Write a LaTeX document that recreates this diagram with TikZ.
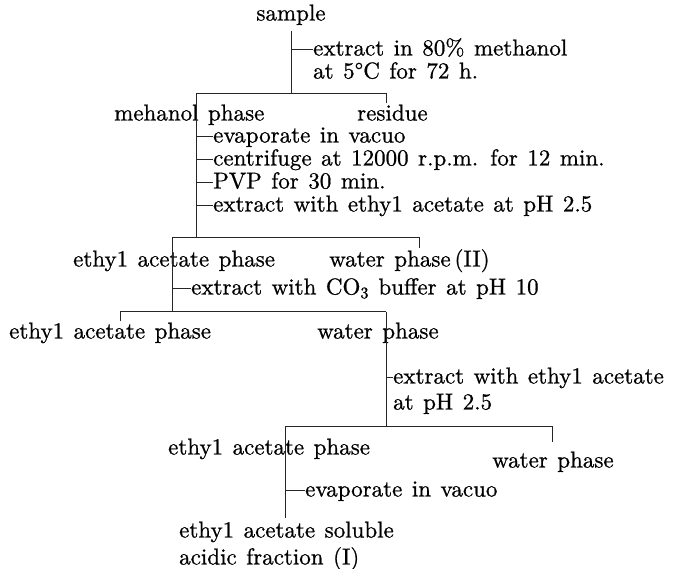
\documentclass[tikz,border=0pt]{standalone}
\usepackage{fontspec}
\newfontfamily\dfont{lmroman10-regular.otf}[FakeBold=0.8]
\newcommand{\wsp}{\spaceskip=9.5pt\relax}
\begin{document}
\begin{tikzpicture}[x=1pt,y=-1pt,
  lbl/.style={anchor=west,inner sep=0pt,font=\dfont\fontsize{23}{23}\selectfont,execute at begin node=\wsp,text height=16pt,text depth=5pt},
  ln/.style={line width=1pt,black!85}]
\useasboundingbox (0,0) rectangle (681,569);
% texts
\node[lbl,anchor=center] (sample) at (291,15) {sample};
\node[lbl] (s1a) at (313,50) {extract in 80\% methanol};
\node[lbl] (s1b) at (313,73) {at 5°C for 72 h.};
\node[lbl] (meth) at (114,115) {mehanol phase};
\node[lbl] (res) at (357,115) {residue};
\node[lbl] (s2a) at (213,137) {evaporate in vacuo};
\node[lbl] (s2b) at (213,160) {centrifuge at 12000 r.p.m. for 12 min.};
\node[lbl] (s2c) at (213,183) {PVP for 30 min.};
\node[lbl] (s2d) at (213,206) {extract with ethy1 acetate at pH 2.5};
\node[lbl] (eap1) at (73,261) {ethy1 acetate phase};
\node[lbl] (wp2) at (329,261) {water phase\,(II)};
\node[lbl] (s3) at (191,289) {extract with CO\textsubscript{3} buffer at pH 10};
\node[lbl] (eap2) at (9,333) {ethy1 acetate phase};
\node[lbl] (wp) at (317,333) {water phase};
\node[lbl] (s4a) at (393,378) {extract with ethy1 acetate};
\node[lbl] (s4b) at (393,404) {at pH 2.5};
\node[lbl] (eap3) at (168,449) {ethy1 acetate phase};
\node[lbl] (wp3) at (492,462) {water phase};
\node[lbl] (s5) at (305,491) {evaporate in vacuo};
\node[lbl] (sol1) at (179,532) {ethy1 acetate soluble};
\node[lbl] (sol2) at (179,559) {acidic fraction (I)};
% junctions
\coordinate (v1top) at (291,31);
\coordinate (j1) at (291,94);
\coordinate (j1l) at (196,94);
\coordinate (j1r) at (386,94);
\coordinate (j2) at (196,238);
\coordinate (j2l) at (172,238);
\coordinate (j2r) at (419,238);
\coordinate (j3) at (172,312);
\coordinate (j3l) at (120,312);
\coordinate (j3r) at (386,312);
\coordinate (j4) at (386,427);
\coordinate (j4l) at (285,427);
\coordinate (j4r) at (552,427);
\coordinate (v5bot) at (285,518);
% level 1
\draw[ln] (v1top) -- (j1);
\draw[ln] (v1top |- s1a.west) -- (s1a.west);
\draw[ln] (j1l) -- (j1r) -- ++(0,9);
% level 2
\draw[ln] (j1l) -- (j2);
\foreach \n in {s2a,s2b,s2c,s2d} \draw[ln] (j1l |- \n.west) -- (\n.west);
\draw[ln] (j2l) -- (j2r) -- ++(0,10);
% level 3
\draw[ln] (j2l) -- (j3);
\draw[ln] (j2l |- s3.west) -- (s3.west);
\draw[ln] (j3l) ++(0,9) -- (j3l) -- (j3r);
% level 4
\draw[ln] (j3r) -- (j4);
\draw[ln] (j3r |- s4a.west) -- (s4a.west);
\draw[ln] (j4l) -- (j4r) -- ++(0,15);
% level 5
\draw[ln] (j4l) -- (v5bot);
\draw[ln] (j4l |- s5.west) -- (s5.west);
\end{tikzpicture}
\end{document}
